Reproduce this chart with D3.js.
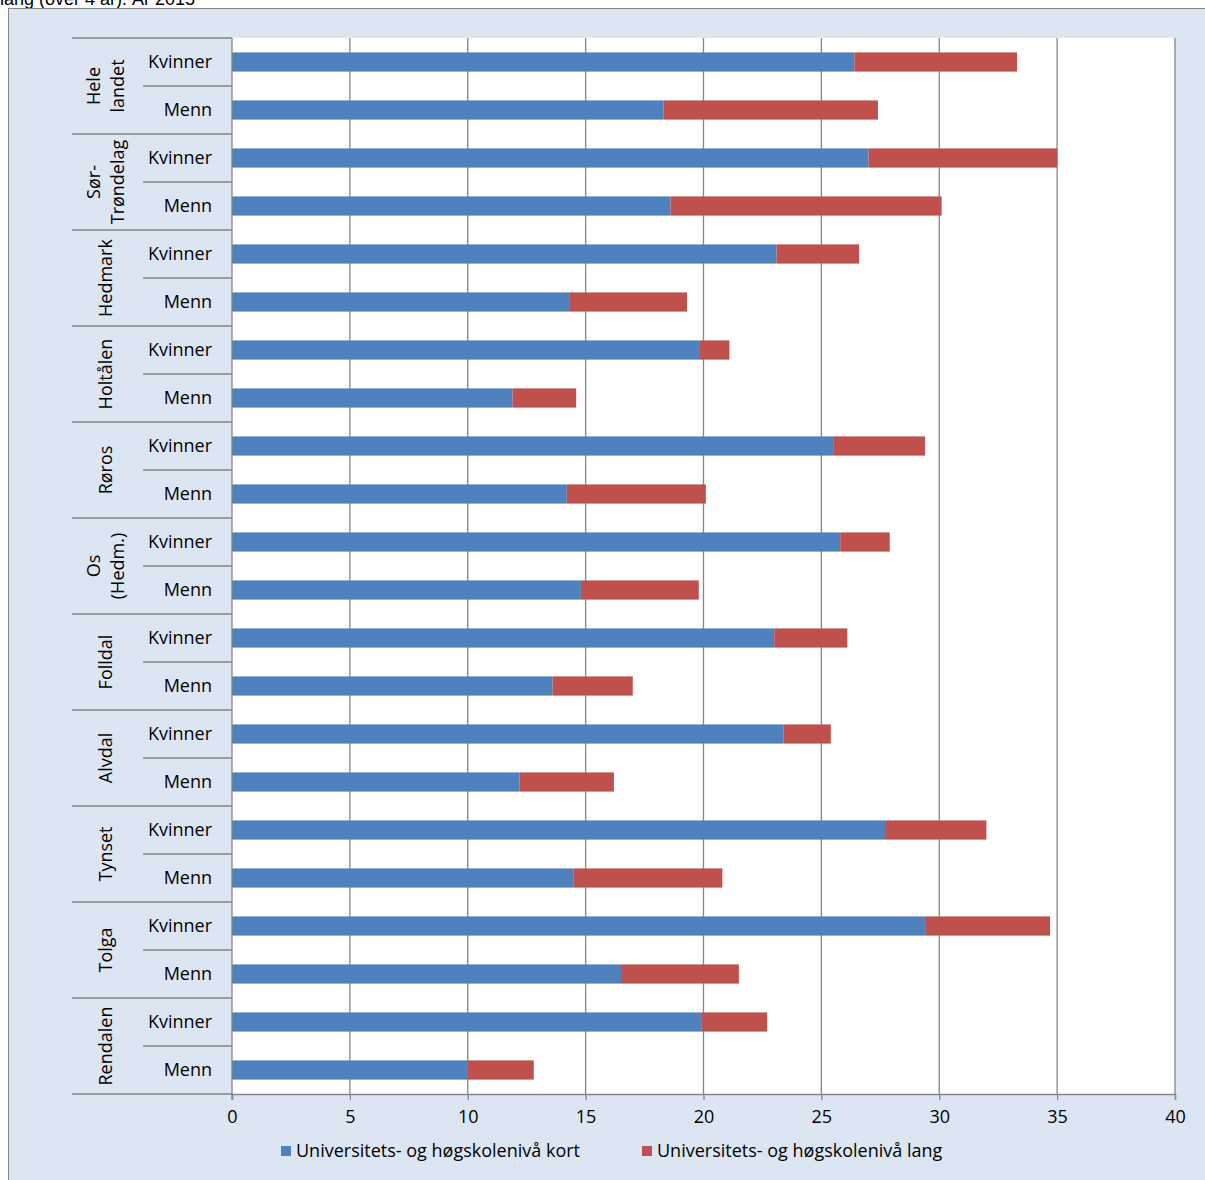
<!DOCTYPE html>
<html><head><meta charset="utf-8">
<script src="https://cdn.jsdelivr.net/npm/d3@7"></script>
<style>body{margin:0;background:#fff}svg{display:block}</style>
</head><body>
<script>
// data
const regions = ["Hele landet", "Sør-Trøndelag", "Hedmark", "Holtålen", "Røros", "Os (Hedm.)", "Folldal", "Alvdal", "Tynset", "Tolga", "Rendalen"];
const regionLines = [["Hele", "landet"], ["Sør-", "Trøndelag"], ["Hedmark"], ["Holtålen"], ["Røros"], ["Os", "(Hedm.)"], ["Folldal"], ["Alvdal"], ["Tynset"], ["Tolga"], ["Rendalen"]];
const genders = ["Kvinner", "Menn"];
// [Kvinner, Menn] per region
const kort = [[26.4, 18.3], [27.0, 18.6], [23.1, 14.3], [19.85, 11.9], [25.5, 14.2], [25.8, 14.8], [23.0, 13.6], [23.4, 12.2], [27.7, 14.5], [29.4, 16.5], [19.9, 10.0]];
const lang = [[6.9, 9.1], [8.0, 11.5], [3.5, 5.0], [1.25, 2.7], [3.9, 5.9], [2.1, 5.0], [3.1, 3.4], [2.0, 4.0], [4.3, 6.3], [5.3, 5.0], [2.8, 2.8]];
const xTicks = [0, 5, 10, 15, 20, 25, 30, 35, 40];
const seriesNames = ["Universitets- og høgskolenivå kort", "Universitets- og høgskolenivå lang"];
const colors = ["#4f81bd", "#c0504d"];

const W = 1205, H = 1180;
const FS = "18px";
const svg = d3.select("body").append("svg").attr("width", W).attr("height", H)
  .style("font-family", "'Open Sans', sans-serif");

svg.append("text").attr("x", 0).attr("y", 5).style("font-family", "Arial, 'Liberation Sans'")
  .style("font-size", "18px").text("lang (over 4 år). År 2015");

svg.append("rect").attr("x", 8.5).attr("y", 8.5).attr("width", W + 10).attr("height", H + 10)
  .attr("fill", "#dce6f2").attr("stroke", "#888").attr("stroke-width", 1);

const pL = 232, pR = 1175, pT = 38, pB = 1094;
svg.append("rect").attr("x", pL).attr("y", pT).attr("width", pR - pL).attr("height", pB - pT).attr("fill", "#fff");

const x = d3.scaleLinear().domain([0, 40]).range([pL, pR]);
const rows = [];
regions.forEach((r, i) => genders.forEach((g, j) => rows.push({ key: r + "|" + g, r: i, g: j, kort: kort[i][j], lang: lang[i][j] })));
const y = d3.scaleBand().domain(rows.map(d => d.key)).range([pT, pB]).paddingInner(0.6).paddingOuter(0.3);
const band = (pB - pT) / rows.length;

// gridlines
svg.append("g").selectAll("line").data(xTicks.slice(1)).join("line")
  .attr("x1", d => x(d)).attr("x2", d => x(d)).attr("y1", pT).attr("y2", pB)
  .attr("stroke", "#868686").attr("stroke-width", 1.3);

// bars
const bars = svg.append("g");
bars.selectAll(".k").data(rows).join("rect").attr("class", "k")
  .attr("x", x(0)).attr("y", d => y(d.key)).attr("height", y.bandwidth())
  .attr("width", d => x(d.kort) - x(0)).attr("fill", colors[0]);
bars.selectAll(".l").data(rows).join("rect").attr("class", "l")
  .attr("x", d => x(d.kort)).attr("y", d => y(d.key)).attr("height", y.bandwidth())
  .attr("width", d => x(d.kort + d.lang) - x(d.kort)).attr("fill", colors[1]);

// x axis
const xa = svg.append("g").attr("transform", `translate(0,${pB})`)
  .call(d3.axisBottom(x).tickValues(xTicks).tickSize(6).tickPadding(10));
xa.select(".domain").attr("stroke", "#868686").attr("stroke-width", 1.3);
xa.selectAll(".tick line").attr("stroke", "#868686").attr("stroke-width", 1.3);
xa.selectAll("text").style("font-size", FS).style("font-family", "'Open Sans', sans-serif").attr("fill", "#000");

// category axis
const ca = svg.append("g").attr("stroke", "#868686").attr("stroke-width", 1.3);
ca.append("line").attr("x1", pL).attr("x2", pL).attr("y1", pT).attr("y2", pB + 6);
d3.range(rows.length + 1).forEach(i => {
  const yy = pT + i * band;
  const isGroup = i % 2 === 0;
  ca.append("line").attr("x1", isGroup ? 72 : 143).attr("x2", pL).attr("y1", yy).attr("y2", yy);
});
svg.append("g").selectAll("text").data(rows).join("text")
  .attr("x", 212).attr("y", d => y(d.key) + y.bandwidth() / 2 + 6)
  .attr("text-anchor", "end").style("font-size", FS).text(d => genders[d.g]);

const gl = svg.append("g").selectAll("g").data(regionLines).join("g")
  .attr("transform", (d, i) => `translate(${106},${pT + (i * 2 + 1) * band}) rotate(-90)`);
gl.each(function (lines) {
  const n = lines.length;
  lines.forEach((t, k) => d3.select(this).append("text")
    .attr("x", 0).attr("y", (k - (n - 1) / 2) * 24 + 6)
    .attr("text-anchor", "middle").style("font-size", FS).text(t));
});

// legend
const legX = [281, 642];
const lg = svg.append("g").selectAll("g").data(seriesNames).join("g")
  .attr("transform", (d, i) => `translate(${legX[i]},1151)`);
lg.append("rect").attr("x", 0).attr("y", -5).attr("width", 10).attr("height", 10).attr("fill", (d, i) => colors[i]);
lg.append("text").attr("x", 15).attr("y", 6).style("font-size", FS).text(d => d);
</script>
</body></html>
